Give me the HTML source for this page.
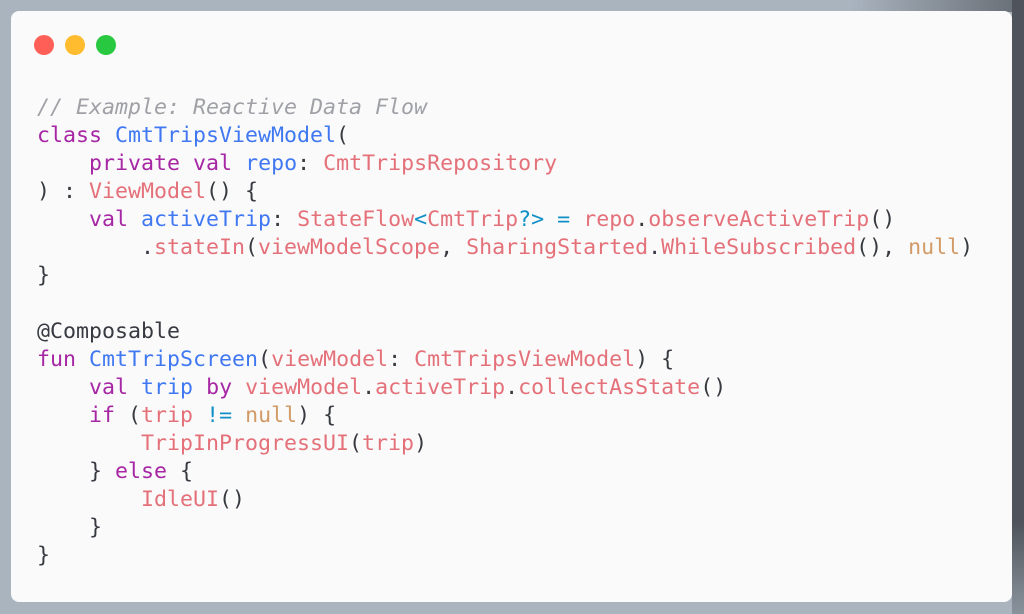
<!DOCTYPE html>
<html><head><meta charset="utf-8"><style>
html,body{margin:0;padding:0}
body{width:1024px;height:614px;position:relative;overflow:hidden;background:#aab4bf}
.rs{position:absolute;left:1012px;top:0;width:12px;height:614px;background:linear-gradient(to bottom,#4f545c 0,#4f545c 85%,#8a939c 100%)}
.ts{position:absolute;left:850px;top:0;width:174px;height:12px;background:linear-gradient(to right,#aab4bf,#6a7078 95%)}
.card{position:absolute;left:11px;top:11px;width:1001px;height:591px;background:#fafafa;border-radius:8px}
.dot{position:absolute;top:35px;width:20px;height:20px;border-radius:50%}
pre{position:absolute;left:37px;top:94px;margin:0;font-family:"DejaVu Sans Mono","Liberation Mono",monospace;font-size:21.6px;line-height:28px;color:#383a42}
.c{color:#a0a1a7;font-style:italic}.k{color:#a626a4}.b{color:#4078f2}.r{color:#e4717a}.o{color:#d19a66}.t{color:#0e8fc6}
</style></head><body>
<div class="ts"></div><div class="rs"></div>
<div class="card"></div>
<div class="dot" style="left:34px;background:#ff5f57"></div>
<div class="dot" style="left:65px;background:#febc2e"></div>
<div class="dot" style="left:96px;background:#28c840"></div>
<pre><span class="c">// Example: Reactive Data Flow</span>
<span class="k">class</span> <span class="b">CmtTripsViewModel</span>(
    <span class="k">private</span> <span class="k">val</span> <span class="b">repo</span>: <span class="r">CmtTripsRepository</span>
) : <span class="r">ViewModel</span>() {
    <span class="k">val</span> <span class="b">activeTrip</span>: <span class="r">StateFlow</span><span class="t">&lt;</span><span class="r">CmtTrip</span><span class="t">?&gt;</span> <span class="t">=</span> <span class="r">repo</span>.<span class="r">observeActiveTrip</span>()
        .<span class="r">stateIn</span>(<span class="r">viewModelScope</span>, <span class="r">SharingStarted</span>.<span class="r">WhileSubscribed</span>(), <span class="o">null</span>)
}

@Composable
<span class="k">fun</span> <span class="b">CmtTripScreen</span>(<span class="r">viewModel</span>: <span class="r">CmtTripsViewModel</span>) {
    <span class="k">val</span> <span class="b">trip</span> <span class="k">by</span> <span class="r">viewModel</span>.<span class="r">activeTrip</span>.<span class="r">collectAsState</span>()
    <span class="k">if</span> (<span class="r">trip</span> <span class="t">!=</span> <span class="o">null</span>) {
        <span class="r">TripInProgressUI</span>(<span class="r">trip</span>)
    } <span class="k">else</span> {
        <span class="r">IdleUI</span>()
    }
}</pre>
</body></html>
